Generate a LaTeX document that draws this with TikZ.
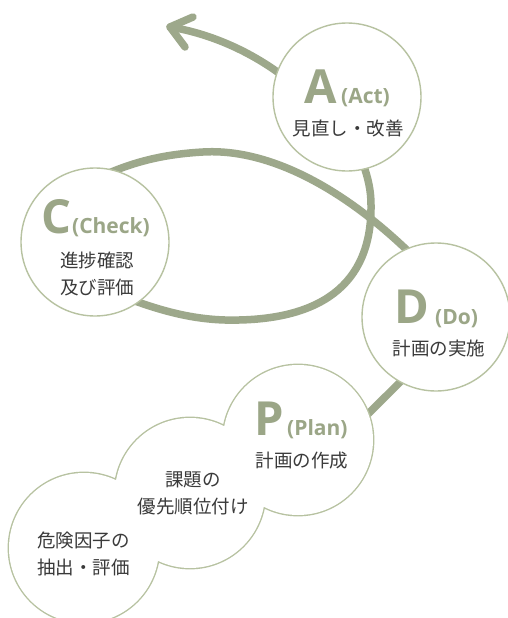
\documentclass[tikz,border=0pt]{standalone}
\usepackage{fontspec}
\setmainfont{Open Sans}
\newfontfamily\jp{Noto Sans CJK JP}
\definecolor{strokec}{HTML}{9DA88B}
\definecolor{ringc}{HTML}{B7C2A1}
\definecolor{letterc}{HTML}{9BA687}
\definecolor{ink}{HTML}{3A3A3A}
\pgfdeclarelayer{bg}
\pgfsetlayers{bg,main}
\begin{document}
\begin{tikzpicture}[x=1pt,y=-1pt,
  ringnode/.style={circle, draw=ringc, line width=1.4pt, fill=white, minimum size=148pt, inner sep=0pt},
  bump/.style={circle, draw=ringc, line width=2.8pt, fill=white, minimum size=150pt, inner sep=0pt},
  flow/.style={draw=strokec, line width=7.5pt},
  big/.style={text=letterc, font=\fontsize{47}{47}\selectfont\bfseries, inner sep=0pt, anchor=base west},
  sub/.style={text=letterc, font=\fontsize{21}{21}\selectfont\bfseries, inner sep=0pt, anchor=base west},
  jtxt/.style={text=ink, font=\jp\fontsize{18.5}{27}\selectfont, inner sep=0pt, align=center},
]
\useasboundingbox (0,0) rectangle (508,618);

% cloud (P)
\node[bump] (b1) at (84,548) {};
\node[bump] (b2) at (190,493) {};
\node[bump] (Pb) at (298,440) {};
\fill[white] (b1.center) circle[radius=75pt] (b2.center) circle[radius=75pt] (Pb.center) circle[radius=75pt];

% circles
\node[ringnode] (A) at (347,97) {};
\node[ringnode] (C) at (95,242) {};
\node[ringnode] (D) at (436,317) {};

\coordinate (tip) at (170,27);
\coordinate (barbU) at (193,17);
\coordinate (barbL) at (185,47);

\begin{pgfonlayer}{bg}
  \fill[white] (0,0) rectangle (508,618);
  % arrow out of A
  \draw[flow, shorten <=-6pt, line cap=round] (A.160) .. controls (252,53) and (213,34) .. (tip);
  \draw[flow, line cap=round, line join=round] (barbU) -- (tip) -- (barbL);
  % D -> C (top arc)
  \draw[flow, shorten <=-6pt, shorten >=-6pt] (D.114) .. controls (345,190) and (270,148) .. (203,152)
        .. controls (168,154) and (140,160) .. (C.74);
  % C -> A (bottom and right arc)
  \draw[flow, shorten <=-6pt, shorten >=-6pt] (C.306) .. controls (160,310) and (190,319) .. (225,320)
        .. controls (320,322) and (372,285) .. (371,205)
        .. controls (371,190) and (368,178) .. (A.284);
  % P -> D
  \draw[flow, shorten <=-6pt, shorten >=-6pt] (Pb.21) -- (D.241);
\end{pgfonlayer}

% labels
\node[big] (Al) at (304,103) {A};
\node[sub] (As) at (341,103) {(Act)};
\node[jtxt] (At) at (348,128) {見直し・改善};

\node[big] (Cl) at (41,233) {C};
\node[sub] (Cs) at (72,233) {(Check)};
\node[jtxt] (Ct) at (97,273.5) {進捗確認\\及び評価};

\node[big] (Dl) at (394,323) {D};
\node[sub] (Ds) at (435,324) {(Do)};
\node[jtxt] (Dt) at (439,348) {計画の実施};

\node[big] (Pl) at (254,435) {P};
\node[sub] (Ps) at (287,435) {(Plan)};
\node[jtxt] (Pt) at (302,461) {計画の作成};

\node[jtxt] (Qt) at (193,493.5) {課題の\\優先順位付け};
\node[jtxt, anchor=west, align=left] (Rt) at (37,553.5) {危険因子の\\抽出・評価};
\end{tikzpicture}
\end{document}
